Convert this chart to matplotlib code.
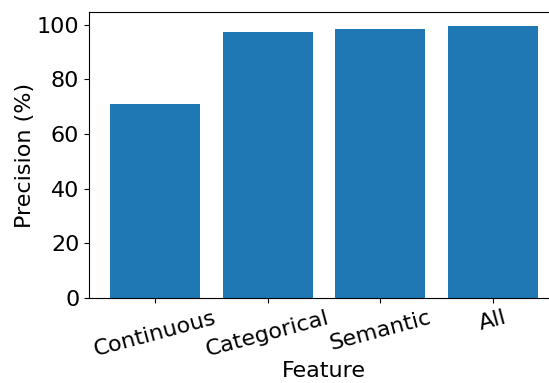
import matplotlib
matplotlib.use("Agg")
import matplotlib.pyplot as plt

# data
features = ["Continuous", "Categorical", "Semantic", "All"]
precision = [70.9, 97.3, 98.4, 99.6]

fig = plt.figure(figsize=(5.49, 3.83), dpi=100)
ax = fig.add_axes([89 / 549, 85 / 383, 470 / 549, 286 / 383])

ax.bar(features, precision, color="#1f77b4", width=0.8)
ax.set_xlim(-0.59, 3.59)
ax.set_ylim(0, 104.6)

ax.set_xlabel("Feature", fontsize=16, labelpad=1)
ax.set_ylabel("Precision (%)", fontsize=16, labelpad=1)
ax.tick_params(axis="both", labelsize=16)
plt.setp(ax.get_xticklabels(), rotation=15)

fig.savefig("out.png", dpi=100)
